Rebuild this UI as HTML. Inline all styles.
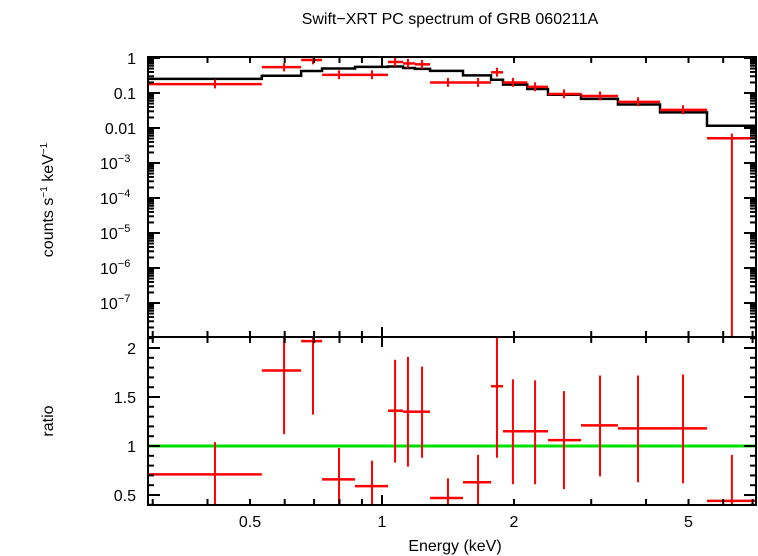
<!DOCTYPE html>
<html><head><meta charset="utf-8"><style>
body{margin:0;background:#fff}
svg{display:block;font-family:"Liberation Sans",sans-serif}
</style></head><body>
<svg id="c" width="758" height="556" xmlns="http://www.w3.org/2000/svg">
<text x="450" y="24" font-size="16" text-anchor="middle">Swift−XRT PC spectrum of GRB 060211A</text>
<text transform="translate(53,200) rotate(-90)" font-size="16" text-anchor="middle">counts s<tspan font-size="10" dy="-6">−1</tspan><tspan dy="6"> keV</tspan><tspan font-size="10" dy="-6">−1</tspan></text>
<text transform="translate(53,421) rotate(-90)" font-size="16" text-anchor="middle">ratio</text>
<text x="455" y="551" font-size="16" text-anchor="middle">Energy (keV)</text>
<g id="g"></g>
</svg>
<script>
const eBinLo=[0.294,0.532,0.654,0.730,0.868,1.032,1.117,1.189,1.287,1.530,1.773,1.888,2.145,2.391,2.843,3.452,4.305,5.51];
const eBinHi=[0.532,0.654,0.730,0.868,1.032,1.117,1.189,1.287,1.530,1.773,1.888,2.145,2.391,2.843,3.452,4.305,5.51,7.17];
const eCen=[0.416,0.598,0.696,0.798,0.949,1.071,1.146,1.234,1.414,1.656,1.829,1.989,2.234,2.60,3.142,3.836,4.858,6.28];
const spec=[0.18,0.55,0.88,0.33,0.33,0.77,0.70,0.66,0.20,0.20,0.39,0.20,0.15,0.094,0.082,0.056,0.033,0.0051];
const model=[0.254,0.31,0.425,0.50,0.56,0.57,0.52,0.49,0.43,0.32,0.24,0.174,0.13,0.089,0.068,0.047,0.028,0.0116];
const ratio=[0.71,1.77,2.07,0.66,0.59,1.36,1.35,1.35,0.47,0.63,1.61,1.15,1.15,1.06,1.21,1.18,1.18,0.44];
const ratioHi=[1.04,2.3,2.3,0.98,0.85,1.88,1.91,1.81,0.67,0.91,2.3,1.68,1.67,1.56,1.72,1.72,1.73,0.91];
const ratioLo=[0,1.12,1.32,0,0,0.83,0.79,0.88,0,0,0.88,0.61,0.61,0.56,0.69,0.63,0.62,0];
const xLabels=[0.5,1,2,5];
const yLabelsTop=["1","0.1","0.01","10|−3","10|−4","10|−5","10|−6","10|−7"];
const rLabels=[0.5,1,1.5,2];

const L=148,R=756,T1=57,B1=337,T2=337,B2=505;
const X=e=>382+438.5*Math.log10(e);
const Y1=v=>v<=0?B1:Math.min(B1,Math.max(T1,58+35*(-Math.log10(v))));
const Y2=r=>Math.min(B2,Math.max(T2,446-(r-1)*98));
const g=document.getElementById('g');
const NS="http://www.w3.org/2000/svg";
function mk(t,a){const el=document.createElementNS(NS,t);for(const k in a)el.setAttribute(k,a[k]);g.appendChild(el);return el;}
function ln(x1,y1,x2,y2,c,w,name){const el=mk('line',{x1,y1,x2,y2,stroke:c,'stroke-width':w});

return el;}
const clipX=x=>Math.min(R,Math.max(L,x));

ln(L,Y2(1),R,Y2(1),'#00e000',3,'unity-line');

let d='';
for(let i=0;i<model.length;i++){const y=Y1(model[i]);d+=(i?'L':'M')+clipX(X(eBinLo[i]))+','+y+'L'+clipX(X(eBinHi[i]))+','+y;}
const mp=mk('path',{d,fill:'none',stroke:'#000','stroke-width':2.5});



for(let i=0;i<spec.length;i++){
  const xl=clipX(X(eBinLo[i])),xh=clipX(X(eBinHi[i])),xc=X(eCen[i]);
  const y=Y1(spec[i]);
  ln(xl,y,xh,y,'#f00',2.5,'data-xerr-'+i);
  const sh=spec[i]*Math.min(ratioHi[i],ratio[i]*1.35)/ratio[i];
  const sl=ratioLo[i]>0?spec[i]*Math.max(ratioLo[i],ratio[i]*0.75)/ratio[i]:(i==17?0:spec[i]*0.75);
  ln(xc,Y1(sh),xc,Y1(sl),'#f00',2,'data-yerr-'+i);
  const yr=Y2(ratio[i]);
  if(yr>T2&&yr<B2) ln(xl,yr,xh,yr,'#f00',2.5,'ratio-xerr-'+i);
  ln(xc,Y2(ratioHi[i]),xc,Y2(ratioLo[i]),'#f00',2,'ratio-yerr-'+i);
}

for(const [t,b,n] of [[T1,B1,'top-panel-frame'],[T2,B2,'bottom-panel-frame']]){
  const r=mk('rect',{x:L,y:t,width:R-L,height:b-t,fill:'none',stroke:'#000','stroke-width':2});
  
  
}
const xt=[0.3,0.4,0.5,0.6,0.7,0.8,0.9,1,2,3,4,5,6,7];
for(const e of xt){const x=X(e);if(x<L||x>R)continue;const len=(e===1)?10:6;
  for(const [yy,dir] of [[T1,1],[B1,-1],[T2,1],[B2,-1]]) ln(x,yy,x,yy+dir*len,'#000',2,'x-tick');}
for(const e of xLabels){const t=mk('text',{x:X(e),y:527,'font-size':16,'text-anchor':'middle'});t.textContent=String(e);
  
  }
for(let dec=0;dec>=-8;dec--){for(let m=1;m<10;m++){const v=m*Math.pow(10,dec);const y=58+35*(-Math.log10(v));if(y<T1-0.5||y>B1)continue;
  const len=m===1?12:6;ln(L,y,L+len,y,'#000',2,'y-tick-top');ln(R,y,R-len,y,'#000',2,'y-tick-top');}}
yLabelsTop.forEach((s,k)=>{const y=58+35*k+6;const t=mk('text',{x:136,y,'font-size':16,'text-anchor':'end'});
  
  
  if(s.includes('|')){const [b,ex]=s.split('|');
    t.textContent=b;const ts=mk('tspan',{'font-size':11,dy:-7});ts.textContent=ex;t.appendChild(ts);
    t.setAttribute('text-anchor','start');t.setAttribute('x',100);}
  else t.textContent=s;});
for(let r=0.4;r<=2.11;r+=0.1){const y=Y2(r);const maj=Math.abs(r*2-Math.round(r*2))<0.01;const len=maj?12:6;
  ln(L,y,L+len,y,'#000',2,'y-tick-bottom');ln(R,y,R-len,y,'#000',2,'y-tick-bottom');}
for(const r of rLabels){const t=mk('text',{x:136,y:Y2(r)+6,'font-size':16,'text-anchor':'end'});t.textContent=String(r);
  
  }
</script>
</body></html>
